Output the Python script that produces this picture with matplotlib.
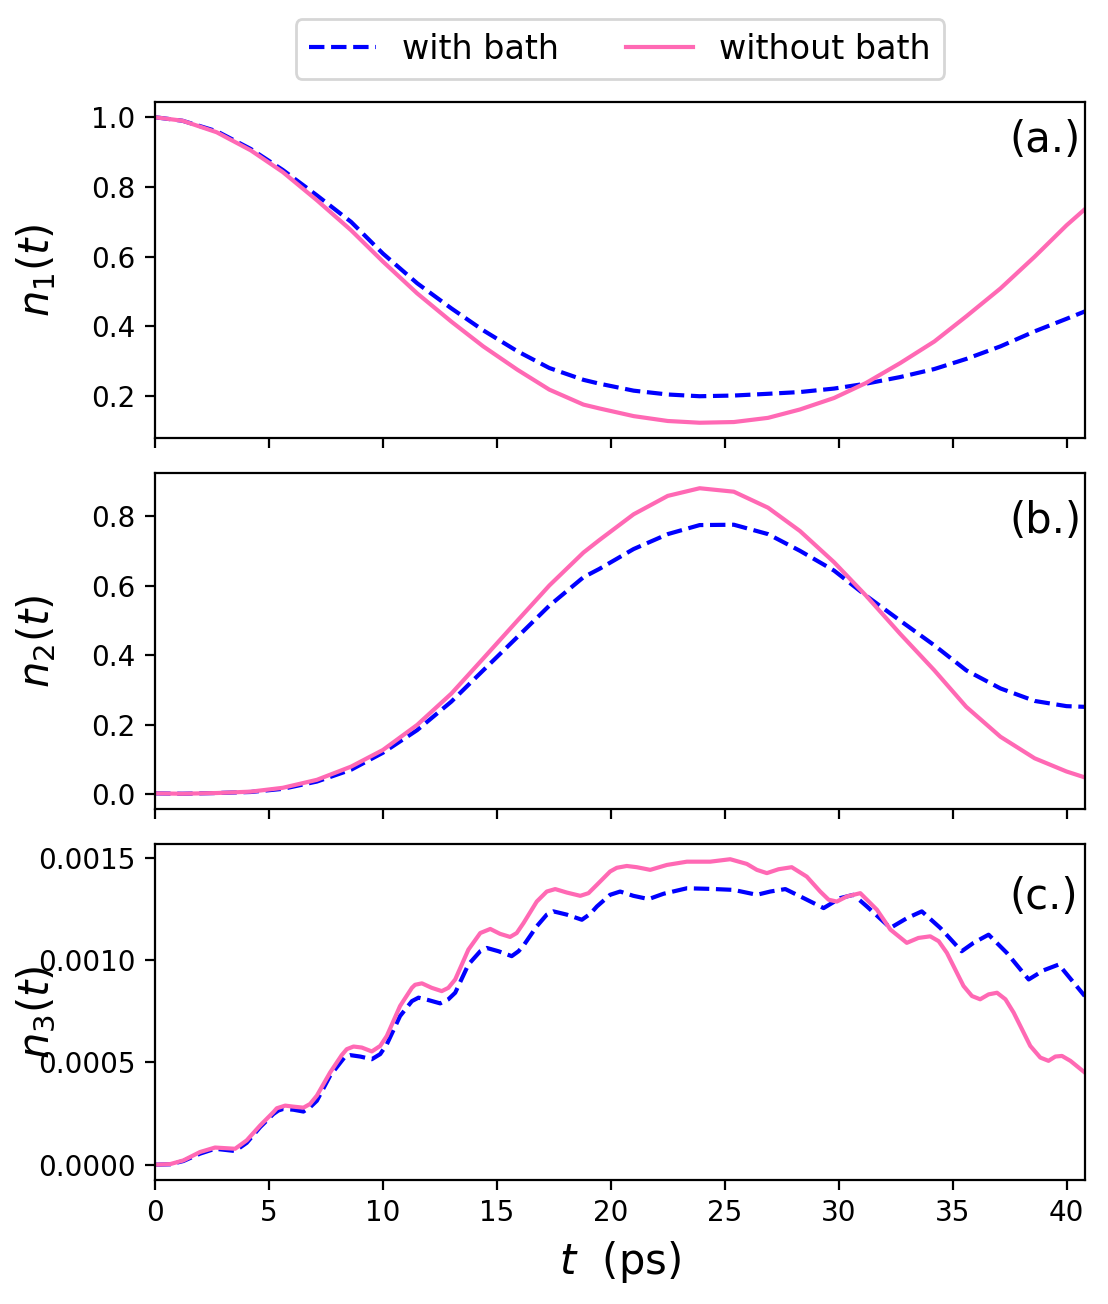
import matplotlib
matplotlib.use("Agg")
import matplotlib.pyplot as plt

# ---------------- data ----------------
t_ab = [0.0, 1.2, 2.7, 4.2, 5.6, 7.1, 8.6, 10.0, 11.5, 13.0, 14.4, 15.9, 17.3, 18.8,
        19.5, 21.0, 22.5, 23.9, 25.4, 26.9, 28.3, 29.8, 31.2, 32.7, 34.2, 35.6, 37.1,
        38.6, 40.0, 40.8]

n1_bath = [1.0, 0.990, 0.960, 0.909, 0.849, 0.776, 0.700, 0.609, 0.524, 0.452, 0.389,
           0.329, 0.281, 0.247, 0.236, 0.216, 0.205, 0.200, 0.202, 0.207, 0.212, 0.222,
           0.236, 0.255, 0.278, 0.307, 0.343, 0.386, 0.422, 0.443]
n1_nobath = [1.0, 0.990, 0.957, 0.905, 0.843, 0.762, 0.676, 0.586, 0.495, 0.414, 0.343,
             0.276, 0.219, 0.176, 0.165, 0.143, 0.129, 0.124, 0.126, 0.138, 0.162, 0.195,
             0.238, 0.295, 0.357, 0.429, 0.509, 0.600, 0.690, 0.736]

n2_bath = [0.002, 0.001, 0.003, 0.006, 0.015, 0.036, 0.070, 0.119, 0.184, 0.266, 0.356,
           0.452, 0.542, 0.624, 0.648, 0.705, 0.748, 0.774, 0.775, 0.748, 0.700, 0.643,
           0.571, 0.499, 0.428, 0.356, 0.304, 0.268, 0.253, 0.251]
n2_nobath = [0.002, 0.001, 0.003, 0.007, 0.018, 0.041, 0.079, 0.127, 0.199, 0.289, 0.390,
             0.499, 0.600, 0.695, 0.731, 0.805, 0.858, 0.880, 0.870, 0.824, 0.757, 0.667,
             0.571, 0.461, 0.356, 0.251, 0.165, 0.103, 0.065, 0.048]

t3_bath = [0.0, 0.66, 1.24, 1.97, 2.63, 3.51, 4.02, 4.61, 5.19, 5.41, 5.63, 6.07, 6.51,
           6.80, 7.10, 7.68, 8.19, 8.34, 8.56, 9.00, 9.51, 9.88, 10.17, 10.75, 11.27,
           11.56, 12.00, 12.51, 12.87, 13.17, 13.75, 14.27, 14.56, 15.07, 15.65, 15.95,
           16.17, 16.75, 17.19, 17.48, 18.07, 18.73, 19.10, 19.39, 19.97, 20.41, 20.99,
           21.66, 22.31, 23.34, 24.36, 25.39, 26.41, 27.00, 27.66, 28.46, 29.34, 30.07,
           30.65, 31.24, 32.27, 33.00, 33.65, 34.46, 35.40, 35.92, 36.58, 37.38, 38.34,
           39.00, 39.66, 40.8]
n3_bath = [0.0, 0.000002, 0.000018, 0.000054, 0.000078, 0.000067, 0.000107, 0.000184,
           0.000248, 0.000265, 0.000273, 0.000269, 0.000260, 0.000281, 0.000313,
           0.000435, 0.000508, 0.000529, 0.000536, 0.000529, 0.000516, 0.000541,
           0.000589, 0.000727, 0.000800, 0.000817, 0.000805, 0.000789, 0.000809,
           0.000841, 0.000979, 0.001044, 0.001060, 0.001044, 0.001020, 0.001044,
           0.001072, 0.001166, 0.001223, 0.001239, 0.001223, 0.001198, 0.001227,
           0.001263, 0.001320, 0.001336, 0.001315, 0.001299, 0.001325, 0.001352,
           0.001349, 0.001344, 0.001320, 0.001336, 0.001348, 0.001304, 0.001255,
           0.001304, 0.001320, 0.001263, 0.001158, 0.001206, 0.001239, 0.001158,
           0.001044, 0.001085, 0.001125, 0.001036, 0.000906, 0.000951, 0.000979,
           0.000825]

t3_nobath = [0.0, 0.66, 1.24, 1.97, 2.63, 3.51, 4.02, 4.61, 5.19, 5.34, 5.71, 6.07, 6.51,
             6.80, 7.10, 7.68, 8.19, 8.41, 8.71, 9.07, 9.51, 9.88, 10.17, 10.75, 11.27,
             11.41, 11.71, 12.14, 12.58, 12.87, 13.17, 13.75, 14.27, 14.71, 15.14, 15.58,
             15.87, 16.17, 16.75, 17.19, 17.56, 18.07, 18.66, 19.02, 19.39, 19.97, 20.26,
             20.70, 21.14, 21.73, 22.46, 23.34, 24.36, 25.24, 25.97, 26.41, 26.85, 27.36,
             27.94, 28.60, 29.19, 29.56, 29.92, 30.36, 30.95, 31.68, 32.27, 32.99, 33.50,
             34.02, 34.39, 34.75, 35.48, 35.85, 36.21, 36.58, 36.95, 37.32, 37.68, 38.41,
             38.85, 39.21, 39.51, 39.80, 40.17, 40.8]
n3_nobath = [0.0, 0.000003, 0.000021, 0.000062, 0.000084, 0.000078, 0.000119, 0.000192,
             0.000257, 0.000276, 0.000289, 0.000284, 0.000279, 0.000297, 0.000338,
             0.000451, 0.000536, 0.000565, 0.000578, 0.000573, 0.000554, 0.000581,
             0.000630, 0.000776, 0.000865, 0.000880, 0.000887, 0.000865, 0.000849,
             0.000865, 0.000906, 0.001052, 0.001133, 0.001153, 0.001129, 0.001114,
             0.001133, 0.001182, 0.001287, 0.001336, 0.001348, 0.001331, 0.001315,
             0.001328, 0.001369, 0.001434, 0.001452, 0.001461, 0.001455, 0.001442,
             0.001466, 0.001482, 0.001482, 0.001494, 0.001471, 0.001442, 0.001426,
             0.001445, 0.001455, 0.001409, 0.001336, 0.001296, 0.001287, 0.001312,
             0.001328, 0.001247, 0.001150, 0.001085, 0.001109, 0.001117, 0.001093,
             0.001036, 0.000874, 0.000825, 0.000809, 0.000833, 0.000841, 0.000809,
             0.000744, 0.000581, 0.000524, 0.000508, 0.000529, 0.000532, 0.000508,
             0.000451]

labels = ["with bath", "without bath"]
panel_tags = ["(a.)", "(b.)", "(c.)"]
panel_tag_y = [0.9, 0.75, 0.00125]
ylabels = [r"$n_1(t)$", r"$n_2(t)$", r"$n_3(t)$"]
xticks = [0, 5, 10, 15, 20, 25, 30, 35, 40]

# ---------------- figure ----------------
fig, axes = plt.subplots(3, 1, figsize=(5.54, 6.52), dpi=200, sharex=True)
fig.subplots_adjust(left=0.14, right=0.979, top=0.9218, bottom=0.0951, hspace=0.104)

blue = "#0000ff"
pink = "#ff69b4"

series = [
    (t_ab, n1_bath, t_ab, n1_nobath),
    (t_ab, n2_bath, t_ab, n2_nobath),
    (t3_bath, n3_bath, t3_nobath, n3_nobath),
]

for ax, (tb, yb, tn, yn), tag, ty, yl in zip(axes, series, panel_tags, panel_tag_y, ylabels):
    ax.plot(tb, yb, "--", color=blue, lw=1.5, label=labels[0])
    ax.plot(tn, yn, "-", color=pink, lw=1.5, label=labels[1])
    ax.text(37.5, ty, tag, fontsize=15)
    ax.set_ylabel(yl, fontsize=15)
    ax.yaxis.set_label_coords(-0.104, 0.5)

axes[-1].set_xlim(0, 40.8)
axes[-1].set_xticks(xticks)
axes[-1].set_xlabel(r"$t$  (ps)", fontsize=15)

axes[0].legend(loc="lower center", bbox_to_anchor=(0.5, 1.068), ncol=2,
               fontsize=12, borderaxespad=0)

fig.savefig("out.png", dpi=200)
